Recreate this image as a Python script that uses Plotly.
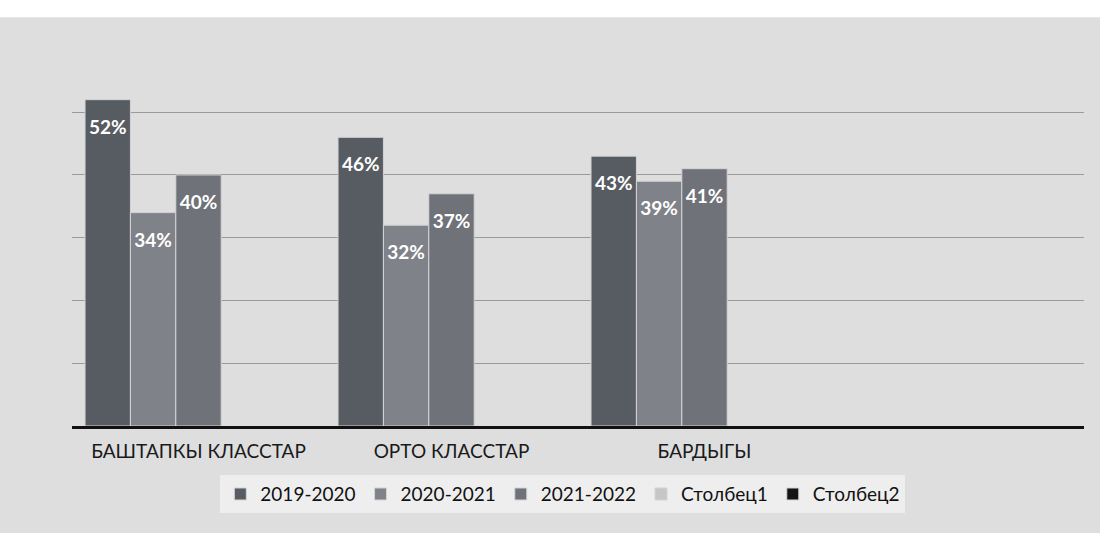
import plotly.graph_objects as go

categories = ["БАШТАПКЫ КЛАССТАР", "ОРТО КЛАССТАР", "БАРДЫГЫ", " "]
series_names = ["2019-2020", "2020-2021", "2021-2022", "Столбец1", "Столбец2"]
v_2019_2020 = [52, 46, 43, None]
v_2020_2021 = [34, 32, 39, None]
v_2021_2022 = [40, 37, 41, None]
v_stolbec1 = [None, None, None, None]
v_stolbec2 = [None, None, None, None]
series_values = [v_2019_2020, v_2020_2021, v_2021_2022, v_stolbec1, v_stolbec2]
colors = ["#575b62", "#7f8289", "#6f7279", "#c6c6c6", "#151515"]

GAP = 0.103
fig = go.Figure()
for name, vals, col in zip(series_names, series_values, colors):
    fig.add_trace(go.Bar(
        name=name, x=categories, y=vals, offsetgroup=name,
        marker=dict(color=col, line=dict(color="#d4d4d4", width=1)),
    ))
for name, vals in zip(series_names, series_values):
    fig.add_trace(go.Scatter(
        x=categories, y=vals, offsetgroup=name, mode="markers+text",
        marker=dict(size=30, color="rgba(0,0,0,0)"),
        text=[("%d%%" % v) if v is not None else "" for v in vals],
        textposition="bottom center",
        textfont=dict(family="Lato", size=19, color="white", weight="bold"),
        showlegend=False, hoverinfo="skip", cliponaxis=False,
    ))

fig.update_layout(
    width=1100, height=533,
    margin=dict(l=72, r=16, t=62, b=107),
    paper_bgcolor="#dedede", plot_bgcolor="rgba(0,0,0,0)",
    barmode="group", bargap=GAP, bargroupgap=0,
    scattermode="group", scattergap=GAP,
    showlegend=True,
    legend=dict(orientation="h", x=0.485, xanchor="center", y=-0.135, yanchor="top",
                font=dict(family="Lato", size=19, color="#111"),
                bgcolor="#eeeeee", itemwidth=30, traceorder="normal"),
    shapes=[dict(type="rect", xref="paper", yref="paper", x0=-0.1, x1=1.1,
                 y0=1.123, y1=1.2, fillcolor="white", line=dict(width=0), layer="below")],
)
fig.update_xaxes(
    type="category", categoryorder="array", categoryarray=categories,
    range=[-0.5, 3.5], showgrid=False, showline=True, linecolor="#111", linewidth=3,
    ticks="", ticklabelstandoff=6,
    tickfont=dict(family="Lato", size=19, color="#1a1a1a"),
)
fig.update_yaxes(
    range=[0, 58], dtick=10, showgrid=True, gridcolor="#9a9a9a", gridwidth=1,
    showticklabels=False, zeroline=False, showline=False,
)
fig.write_html("out.html", config={"displayModeBar": False},
               post_script="document.body.style.margin='0';")
